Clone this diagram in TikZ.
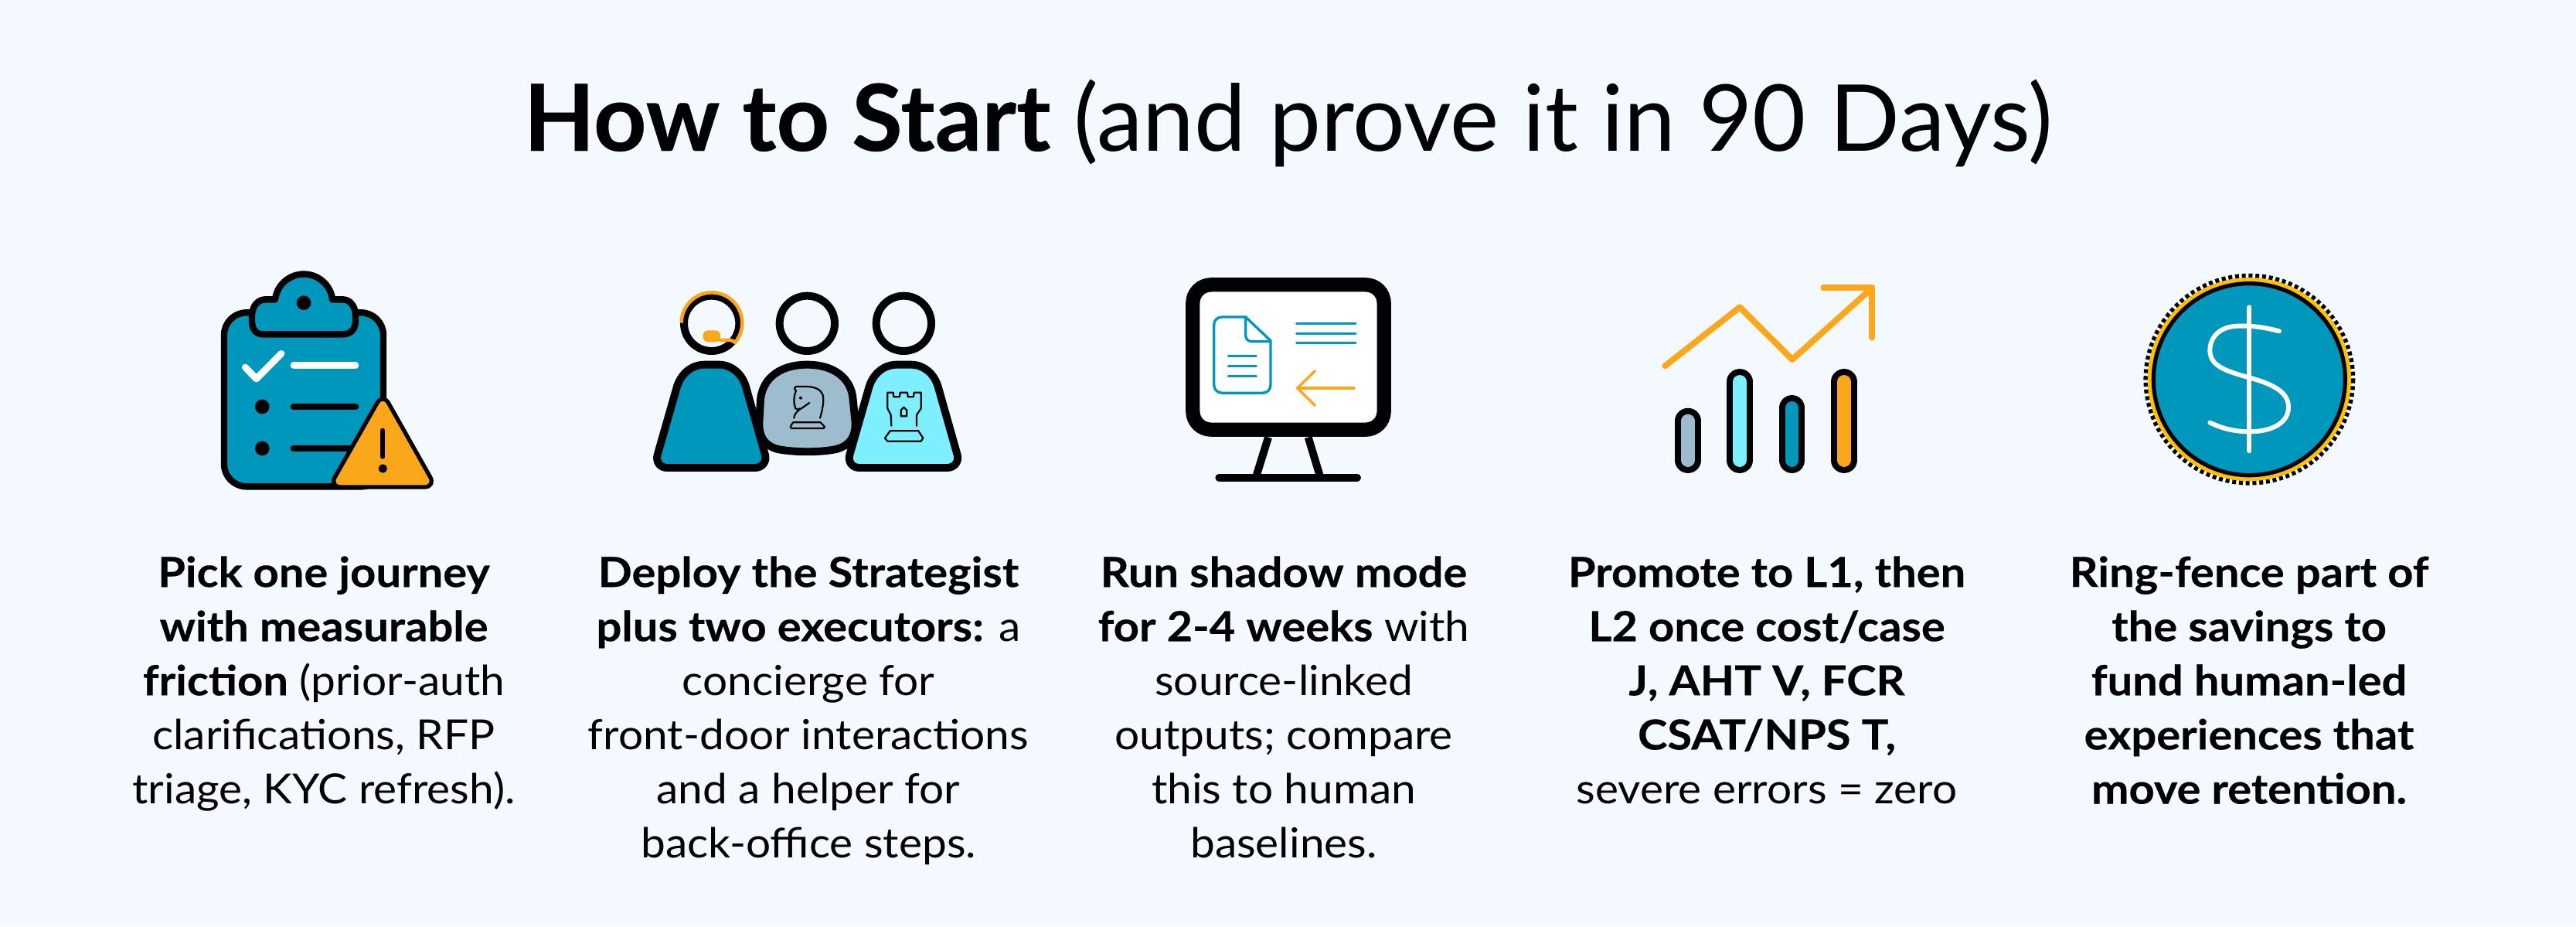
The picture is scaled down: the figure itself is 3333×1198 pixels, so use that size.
\documentclass[tikz,border=0pt]{standalone}
\usepackage{fontspec}
\setmainfont{Lato}[FakeStretch=1.06,BoldFeatures={FakeStretch=1.08,FakeBold=0.25}]
\newfontfamily\titlefont{Lato}[BoldFeatures={FakeBold=0.35}]
\definecolor{bg}{HTML}{F4F8FF}
\definecolor{teal}{HTML}{0097BC}
\definecolor{slate}{HTML}{9DBDCE}
\definecolor{aqua}{HTML}{7DEFFF}
\definecolor{amber}{HTML}{FBA71B}
\definecolor{gold}{HTML}{FFC000}
\definecolor{ink}{HTML}{020104}
\tikzset{
  zoomed/.style={shift={#1},xscale=1/3,yscale=1/3},
  thick line/.style={line width=5.67pt,draw=ink,line join=round,line cap=round},
  fine line/.style={line width=1.25pt,draw=ink,line join=round,line cap=round},
  cap line/.style={line cap=round,line join=round},
  para/.style={anchor=north,align=center,text=ink,inner sep=0pt,font=\fontsize{30.5}{39.9}\selectfont},
}
\newcommand{\bodypath}{(100,795) .. controls (70,795) and (55,770) .. (62,745) -- (135,490) .. controls (150,430) and (195,395) .. (245,395) -- (300,395) .. controls (350,395) and (390,430) .. (405,480) -- (480,745) .. controls (487,770) and (470,795) .. (440,795) -- cycle}
\begin{document}
\begin{tikzpicture}[x=0.02cm,y=-0.02cm]
\fill[bg] (0,0) rectangle (3333,1198);
\useasboundingbox (0,0) rectangle (3333,1198);

% title
\node[anchor=base,text=ink,inner sep=0pt,font=\titlefont\fontsize{68}{80}\selectfont] (title) at (1667,195) {\textbf{How to Start} (and prove it in 90 Days)};

% --- clipboard icon
\begin{scope}[zoomed={(240,320)}]
  \draw[thick line,line width=4.8pt,fill=teal,rounded corners=0.58cm] (150,253) rectangle (768,928);
  \draw[thick line,line width=4.8pt,fill=teal] (348,202) arc[start angle=187,end angle=353,radius=112] -- (610,202)
     .. controls (640,202) and (660,230) .. (660,265) -- (660,285) .. controls (660,320) and (640,337) .. (610,337)
     -- (300,337) .. controls (275,337) and (258,320) .. (258,285) -- (258,265) .. controls (258,230) and (280,202) .. (310,202) -- cycle;
  \fill[ink] (459,215) circle[radius=28];
  \draw[white,cap line,line width=5pt] (232,465) -- (275,510) -- (372,412);
  \draw[white,cap line,line width=5pt] (420,457) -- (660,457);
  \fill[ink] (298,618) circle[radius=28];
  \fill[ink] (298,780) circle[radius=28];
  \draw[ink,cap line,line width=5pt] (420,618) -- (660,618);
  \draw[ink,cap line,line width=5pt] (420,780) -- (660,780);
  \draw[ink,fill=amber,line width=3pt,line join=round,rounded corners=0.3cm] (766,565) -- (558,930) -- (972,930) -- cycle;
  \draw[ink,cap line,line width=3.4pt] (766,710) -- (766,812);
  \fill[ink] (766,858) circle[radius=17];
\end{scope}

% --- three people icon
\begin{scope}[zoomed={(830,340)}]
  \draw[thick line] (272,235) circle[radius=107];
  \draw[thick line] (643,235) circle[radius=107];
  \draw[thick line] (1018,235) circle[radius=107];
  \draw[amber,line width=2.6pt,line cap=butt] (155,233) arc[start angle=180,end angle=400,radius=118] .. controls (350,296) and (335,300) .. (300,300);
  \fill[amber,rounded corners=0.14cm] (238,262) rectangle (307,307);
  \draw[thick line,fill=slate] (643,395) .. controls (750,395) and (815,450) .. (821,530) -- (830,620) .. controls (832,695) and (785,720) .. (740,726) .. controls (680,735) and (610,735) .. (545,726) .. controls (500,720) and (455,695) .. (457,620) -- (462,530) .. controls (470,450) and (535,395) .. (643,395) -- cycle;
  \draw[thick line,fill=teal] \bodypath;
  \draw[thick line,fill=aqua,shift={(746,0)}] \bodypath;
  % knight
  \draw[fine line] (588,619) -- (695,619) -- (711,636) -- (707,642) -- (582,642) -- (578,636) -- cycle;
  \draw[fine line] (693,602) .. controls (703,570) and (710,530) .. (703,510) .. controls (695,490) and (670,480) .. (640,480) -- (602,480) .. controls (592,482) and (592,490) .. (600,496) .. controls (590,520) and (590,545) .. (598,565) .. controls (603,570) and (610,570) .. (615,565);
  \draw[fine line] (652,543) -- (610,572) .. controls (598,582) and (593,590) .. (592,602);
  \fill[ink] (618,524) circle[radius=6];
  % rook
  \draw[fine line] (965,652) -- (1075,652) -- (1093,680) -- (1085,692) -- (955,692) -- (945,680) -- cycle;
  \draw[fine line] (970,632) -- (968,590) -- (955,565) -- (955,503) -- (978,503) -- (978,520) -- (1002,520) -- (1004,503) -- (1032,503) -- (1034,520) -- (1056,520) -- (1058,503) -- (1085,503) -- (1085,565) -- (1068,590) -- (1068,632);
  \draw[fine line] (1007,595) -- (1007,572) -- (1018,560) -- (1030,572) -- (1030,595) -- cycle;
\end{scope}

% --- monitor icon
\begin{scope}[zoomed={(1500,340)}]
  \draw[ink,line width=5.7pt,line cap=butt] (423,677) -- (378,822);
  \draw[ink,line width=5.7pt,line cap=butt] (578,677) -- (622,822);
  \draw[ink,line width=5.7pt,line cap=round] (232,833) -- (768,833);
  \draw[ink,fill=white,line width=10.4pt,rounded corners=0.47cm] (130,85) rectangle (872,647);
  \draw[teal,cap line,line width=1.9pt] (335,210) -- (245,210) .. controls (225,210) and (212,222) .. (212,242) -- (212,472) .. controls (212,492) and (225,505) .. (245,505) -- (400,505) .. controls (420,505) and (432,492) .. (432,472) -- (432,302) -- cycle;
  \draw[teal,cap line,line width=1.9pt] (335,210) -- (335,280) .. controls (335,297) and (345,305) .. (360,305) -- (432,305);
  \draw[teal,cap line,line width=1.7pt] (268,361) -- (376,361);
  \draw[teal,cap line,line width=1.7pt] (268,400) -- (376,400);
  \draw[teal,cap line,line width=1.7pt] (268,438) -- (376,438);
  \draw[teal,cap line,line width=1.7pt] (533,235) -- (762,235);
  \draw[teal,cap line,line width=1.7pt] (533,273) -- (762,273);
  \draw[teal,cap line,line width=1.7pt] (533,311) -- (762,311);
  \draw[amber,cap line,line width=1.9pt] (756,486) -- (536,486);
  \draw[amber,cap line,line width=1.9pt] (604,420) -- (536,486) -- (604,553);
\end{scope}

% --- chart icon
\begin{scope}[zoomed={(2120,340)}]
  \draw[amber,cap line,line width=4.5pt] (103,400) -- (393,172) -- (597,375) -- (907,97);
  \draw[amber,cap line,line width=4.5pt] (718,97) -- (907,97) -- (907,290);
  \draw[ink,line cap=round,line width=18.9pt] (192,613) -- (192,766);
  \draw[slate,line cap=round,line width=9.8pt] (192,613) -- (192,766);
  \draw[ink,line cap=round,line width=18.9pt] (393,461) -- (393,766);
  \draw[aqua,line cap=round,line width=9.8pt] (393,461) -- (393,766);
  \draw[ink,line cap=round,line width=18.9pt] (596,563) -- (596,766);
  \draw[teal,line cap=round,line width=9.8pt] (596,563) -- (596,766);
  \draw[ink,line cap=round,line width=18.9pt] (798,461) -- (798,766);
  \draw[amber,line cap=round,line width=9.8pt] (798,461) -- (798,766);
\end{scope}

% --- coin icon
\begin{scope}[zoomed={(2750,340)}]
  \draw[ink,line width=3.3pt,dash pattern=on 2.85pt off 2.135pt] (481,452) circle[radius=402];
  \draw[gold,line width=2.9pt] (481,452) circle[radius=387];
  \fill[teal] (481,452) circle[radius=372];
  \draw[ink,line width=3pt] (481,452) circle[radius=372];
  \draw[white,line cap=round,line width=3.4pt] (481,172) -- (481,730);
  \draw[white,line cap=round,line width=3.4pt] (597,265) .. controls (540,250) and (490,243) .. (440,245) .. controls (370,245) and (328,285) .. (328,340) .. controls (328,400) and (390,420) .. (480,445) .. controls (570,470) and (633,500) .. (633,560) .. controls (633,620) and (570,655) .. (480,655) .. controls (420,655) and (370,640) .. (328,620);
\end{scope}

% --- captions
\node[para] (pick) at (419,719) {\textbf{Pick one journey}\\\textbf{with measurable}\\\textbf{friction} (prior-auth\\clarifications, RFP\\triage, KYC refresh).};
\node[para] (deploy) at (1046,719) {\textbf{Deploy the Strategist}\\\textbf{plus two executors:} a\\concierge for\\front-door interactions\\and a helper for\\back-office steps.};
\node[para] (shadow) at (1661,719) {\textbf{Run shadow mode}\\\textbf{for 2-4 weeks} with\\source-linked\\outputs; compare\\this to human\\baselines.};
\node[para] (promote) at (2286,719) {\textbf{Promote to L1, then}\\\textbf{L2 once cost/case}\\\textbf{J, AHT V, FCR}\\\textbf{CSAT/NPS T,}\\severe errors = zero};
\node[para] (ring) at (2910,719) {\textbf{Ring-fence part of}\\\textbf{the savings to}\\\textbf{fund human-led}\\\textbf{experiences that}\\\textbf{move retention.}};
\end{tikzpicture}
\end{document}
